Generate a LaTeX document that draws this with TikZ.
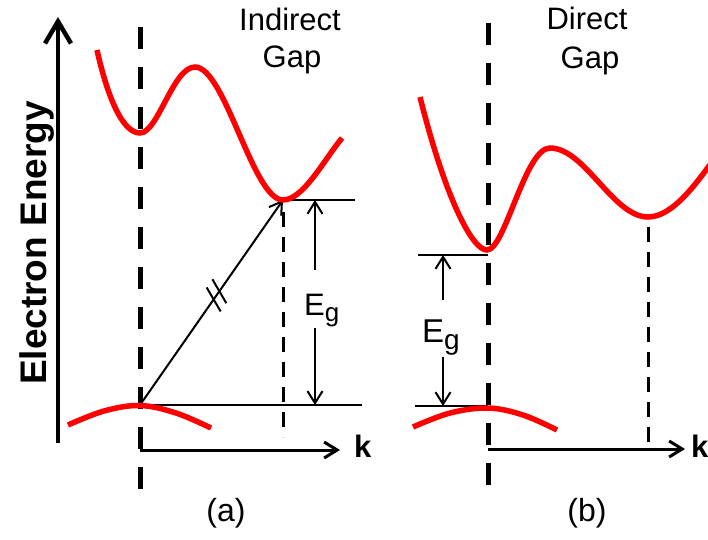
\documentclass[tikz,border=0pt]{standalone}
\usepackage{fontspec}
\setmainfont{Liberation Sans}
\usetikzlibrary{arrows.meta,calc}
\begin{document}
\begin{tikzpicture}[x=1pt,y=-1pt,
  thinline/.style={line width=2pt},
  band/.style={draw=red, line width=5.5pt},
  bigdash/.style={line width=5pt, dash pattern=on 22pt off 18pt},
  smalldash/.style={line width=3pt, dash pattern=on 15pt off 10pt},
  gaparrow/.style={line width=2pt, -{Straight Barb[length=12pt,width=15pt]}},
  karrow/.style={line width=3pt, -{Straight Barb[length=13pt,width=16pt]}},
  eaxis/.style={line width=4.5pt, -{Straight Barb[length=22pt,width=26pt]}},
  title/.style={inner sep=0pt, anchor=base, font=\fontsize{31}{31}\selectfont},
  panel/.style={inner sep=0pt, anchor=base, font=\fontsize{32}{32}\selectfont},
  klabel/.style={inner sep=0pt, anchor=base west, font=\fontsize{31}{31}\selectfont\bfseries},
]
\useasboundingbox (0,0) rectangle (708,539);

% energy axis
\coordinate (eb) at (58,443);
\coordinate (et) at (58,17);
\draw[eaxis] (eb) -- (et);
\node[rotate=90, inner sep=0pt, font=\fontsize{37}{37}\selectfont\bfseries] (elabel) at (37,243) {Electron Energy};

% ---------- panel (a) ----------
\coordinate (aTop) at (140,27);
\coordinate (aBot) at (140,492);
\draw[bigdash] (aTop) -- (aBot);

\coordinate (aCB) at (283,200);
\coordinate (aVB) at (140,405);
\coordinate (aCBend) at (355,200);
\coordinate (aVBend) at (362,405);
\draw[thinline] (aCB) -- (aCBend);
\draw[thinline] (aVB) -- (aVBend);

\coordinate (aDt) at (283,212);
\coordinate (aDb) at (283,437);
\draw[smalldash] (aDt) -- (aDb);

% Eg arrow (a)
\node[inner sep=0pt, anchor=base west, font=\fontsize{31}{31}\selectfont] (aEg) at (304,315) {E\raisebox{-6pt}{\fontsize{26}{26}\selectfont g}};
\coordinate (aGt) at (315,200);
\coordinate (aGb) at (315,405);
\coordinate (aGm1) at (315,270);
\coordinate (aGm2) at (315,328);
\draw[gaparrow] (aGm1) -- (aGt);
\draw[gaparrow] (aGm2) -- (aGb);

% diagonal transition
\draw[gaparrow] (aVB) -- (aCB);
\coordinate (s1) at ($(aVB)!0.515!(aCB)$);
\coordinate (s2) at ($(aVB)!0.555!(aCB)$);
\draw[thinline] ($(s1)+(-7,-12)$) -- ($(s1)+(7,12)$);
\draw[thinline] ($(s2)+(-7,-12)$) -- ($(s2)+(7,12)$);

% k axis (a)
\coordinate (ak0) at (140,450);
\coordinate (ak1) at (340,450);
\draw[karrow] (ak0) -- (ak1);
\node[klabel] (ak) at (354,457) {k};

% bands (a)
\draw[band] (97,50) .. controls +(10,45) and +(-18,0) .. (140,133)
  .. controls +(18,0) and +(-22,0) .. (195,67)
  .. controls +(30,0) and +(-30,0) .. (283,200)
  .. controls +(20,0) and +(-18,22) .. (342,138);
\draw[band] plot[smooth, tension=0.6] coordinates {(68,425) (104,411) (140,405.5) (176,413) (211,428)};

\node[title] (ind) at (290,30) {Indirect};
\node[title] (gapa) at (292,67) {Gap};
\node[panel] (labA) at (226,521) {(a)};

% ---------- panel (b) ----------
\coordinate (bTop) at (488,23);
\coordinate (bBot) at (488,488);
\draw[bigdash] (bTop) -- (bBot);

\coordinate (bCB) at (488,255);
\coordinate (bCBl) at (418,255);
\coordinate (bVB) at (488,406);
\coordinate (bVBl) at (415,406);
\draw[thinline] (bCBl) -- (bCB);
\draw[thinline] (bVBl) -- (bVB);

\coordinate (bDt) at (648,227);
\coordinate (bDb) at (648,450);
\draw[smalldash] (bDt) -- (bDb);

\node[inner sep=0pt, anchor=base west, font=\fontsize{33}{33}\selectfont] (bEg) at (422,342) {E\raisebox{-7pt}{\fontsize{28}{28}\selectfont g}};
\coordinate (bGt) at (443,255);
\coordinate (bGb) at (443,406);
\coordinate (bGm1) at (443,300);
\coordinate (bGm2) at (443,357);
\draw[gaparrow] (bGm1) -- (bGt);
\draw[gaparrow] (bGm2) -- (bGb);

\coordinate (bk0) at (488,449);
\coordinate (bk1) at (685,449);
\draw[karrow] (bk0) -- (bk1);
\node[klabel] (bk) at (691,457) {k};

\draw[band] (420,97) .. controls +(25,100) and +(-15,0) .. (487,250)
  .. controls +(18,0) and +(-25,0) .. (550,148)
  .. controls +(35,0) and +(-35,0) .. (648,217)
  .. controls +(25,0) and +(-15,20) .. (712,162);
\draw[band] plot[smooth, tension=0.6] coordinates {(413,427) (450,413) (488,408) (523,415) (557,430)};

\node[title] (dir) at (587,29) {Direct};
\node[title] (gapb) at (590,68) {Gap};
\node[panel] (labB) at (587,521) {(b)};
\end{tikzpicture}
\end{document}
